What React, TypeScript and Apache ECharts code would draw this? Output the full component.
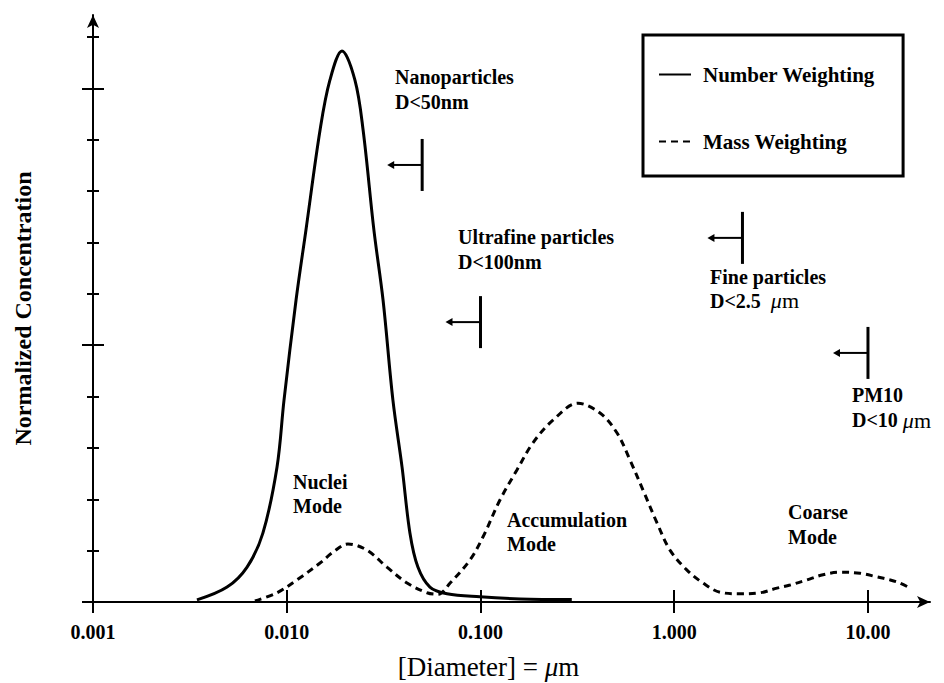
import React, { useEffect, useRef } from "react";
import * as echarts from "echarts";

// ---- data ----
const numberDiameters = [0.00344, 0.00492, 0.00624, 0.00753, 0.00891, 0.00968, 0.01117, 0.01256, 0.01486, 0.0167, 0.01928, 0.02249, 0.02478, 0.02818, 0.03141, 0.03532, 0.03936, 0.04325, 0.04753, 0.05483, 0.06714, 0.0993, 0.16, 0.296];
const numberValues = [0.04, 0.29, 0.68, 1.34, 2.63, 3.93, 5.88, 7.24, 9.19, 10.16, 10.73, 10.16, 9.19, 7.24, 5.88, 3.93, 2.63, 1.34, 0.68, 0.29, 0.16, 0.1, 0.06, 0.05];

const massDiameters = [0.00685, 0.00891, 0.01129, 0.01486, 0.01734, 0.0207, 0.02594, 0.03289, 0.04178, 0.05298, 0.0604, 0.0697, 0.0883, 0.1031, 0.1262, 0.1542, 0.1866, 0.2366, 0.3184, 0.414, 0.507, 0.592, 0.69, 0.815, 0.951, 1.164, 1.407, 1.723, 2.183, 2.773, 3.39, 3.96, 4.84, 5.86, 7.17, 9.1, 11.12, 13.0, 14.6, 16.5];
const massValues = [0.02, 0.18, 0.43, 0.76, 0.97, 1.13, 1.01, 0.68, 0.37, 0.18, 0.15, 0.37, 0.82, 1.27, 1.99, 2.57, 3.1, 3.54, 3.87, 3.68, 3.29, 2.76, 2.18, 1.54, 1.01, 0.62, 0.37, 0.19, 0.16, 0.18, 0.27, 0.33, 0.43, 0.53, 0.58, 0.56, 0.49, 0.43, 0.37, 0.27];

// size-cut markers (diameter, vertical position)
const markerDiameters = [0.05, 0.1, 2.25, 10];
const markerLevels = [8.51, 5.45, 7.09, 4.85];

const xTickValues = [0.001, 0.01, 0.1, 1, 10];
const xTickLabels = ["0.001", "0.010", "0.100", "1.000", "10.00"];
const yMinorTicks = [0, 1, 2, 3, 4, 5, 6, 7, 8, 9, 10, 11];
const yMajorTicks = [0, 5, 10];

const seriesNames = ["Number Weighting", "Mass Weighting"];

const FONT = "Liberation Serif";

export default function App() {
  const ref = useRef<HTMLDivElement>(null);

  useEffect(() => {
    if (!ref.current) return;
    const chart = echarts.init(ref.current, null, { renderer: "svg" });

    const baseY = {
      type: "value",
      min: 0,
      max: 11.43,
      position: "left",
      offset: 0,
      axisLabel: { show: false },
      splitLine: { show: false },
    };
    const baseX = {
      type: "log",
      logBase: 10,
      min: 0.001,
      max: 20.9,
      position: "bottom",
      offset: 0,
      splitLine: { show: false },
      minorTick: { show: false },
    };

    const annText = (x: number, y: number, text: string, lh = 25) => ({
      type: "text",
      x,
      y,
      silent: true,
      style: {
        text,
        fontFamily: FONT,
        fontSize: 20,
        fontWeight: "bold",
        lineHeight: lh,
        fill: "#000",
        verticalAlign: "top",
        rich: {
          mu: { fontFamily: FONT, fontSize: 22, fontStyle: "italic", fontWeight: "normal", lineHeight: lh, fill: "#000" },
          r: { fontFamily: FONT, fontSize: 22, fontWeight: "normal", lineHeight: lh, fill: "#000" },
        },
      },
    });

    chart.setOption({
      animation: false,
      backgroundColor: "#fff",
      grid: { left: 93, right: 14, top: 15, bottom: 81, containLabel: false, outerBoundsMode: "none" },
      legend: {
        data: seriesNames,
        orient: "vertical",
        left: 643,
        top: 35,
        itemWidth: 32,
        itemHeight: 14,
        itemGap: 46,
        padding: [29, 28, 24, 15],
        borderColor: "#000",
        borderWidth: 3,
        backgroundColor: "#fff",
        itemStyle: { opacity: 0 },
        textStyle: { fontFamily: FONT, fontSize: 21, fontWeight: "bold", color: "#000", padding: [0, 0, 0, 7] },
      },
      xAxis: [
        {
          ...baseX,
          axisLine: { show: true, lineStyle: { color: "#000", width: 2 }, symbol: ["none", "arrow"], symbolSize: [9, 13] },
          axisTick: { show: true, customValues: xTickValues, length: 11, inside: false, lineStyle: { color: "#000", width: 2 } },
          axisLabel: {
            show: true,
            customValues: xTickValues,
            margin: 20,
            fontFamily: FONT,
            fontSize: 20,
            fontWeight: "bold",
            color: "#000",
            formatter: (v: number) => xTickLabels[Math.round(Math.log10(v)) + 3],
          },
          name: "[Diameter] = {mu|μ}m",
          nameLocation: "middle",
          nameGap: 51,
          nameTextStyle: {
            fontFamily: FONT,
            fontSize: 27,
            color: "#000",
            padding: [0, 46, 0, 0],
            rich: { mu: { fontFamily: FONT, fontSize: 27, fontStyle: "italic", color: "#000" } },
          },
        },
        {
          ...baseX,
          axisLine: { show: false },
          axisTick: { show: true, customValues: xTickValues, length: 12, inside: true, lineStyle: { color: "#000", width: 2 } },
          axisLabel: { show: false },
        },
      ],
      yAxis: [
        {
          ...baseY,
          axisLine: { show: true, lineStyle: { color: "#000", width: 2 }, symbol: ["none", "arrow"], symbolSize: [9, 13] },
          axisTick: { show: true, customValues: yMinorTicks, length: 6, inside: false, lineStyle: { color: "#000", width: 2 } },
          name: "Normalized Concentration",
          nameLocation: "middle",
          nameRotate: 90,
          nameGap: 58,
          nameTextStyle: { fontFamily: FONT, fontSize: 24, fontWeight: "bold", color: "#000" },
        },
        {
          ...baseY,
          axisLine: { show: false },
          axisTick: { show: true, customValues: yMinorTicks, length: 6, inside: true, lineStyle: { color: "#000", width: 2 } },
        },
        {
          ...baseY,
          axisLine: { show: false },
          axisTick: { show: true, customValues: yMajorTicks, length: 11, inside: false, lineStyle: { color: "#000", width: 2 } },
        },
        {
          ...baseY,
          axisLine: { show: false },
          axisTick: { show: true, customValues: yMajorTicks, length: 11, inside: true, lineStyle: { color: "#000", width: 2 } },
        },
      ],
      series: [
        {
          name: seriesNames[0],
          type: "line",
          xAxisIndex: 0,
          yAxisIndex: 0,
          data: numberDiameters.map((d, i) => [d, numberValues[i]]),
          smooth: 0.35,
          symbol: "none",
          lineStyle: { color: "#000", width: 3, type: "solid" },
          itemStyle: { color: "#000" },
        },
        {
          name: seriesNames[1],
          type: "line",
          xAxisIndex: 0,
          yAxisIndex: 0,
          data: massDiameters.map((d, i) => [d, massValues[i]]),
          smooth: 0.35,
          symbol: "none",
          lineStyle: { color: "#000", width: 3, type: [7, 5] },
          itemStyle: { color: "#000" },
        },
        {
          name: "cut-offs",
          type: "custom",
          xAxisIndex: 0,
          yAxisIndex: 0,
          silent: true,
          data: markerDiameters.map((d, i) => [d, markerLevels[i]]),
          renderItem: (_params: any, api: any) => {
            const p = api.coord([api.value(0), api.value(1)]);
            const x = p[0];
            const y = p[1];
            return {
              type: "group",
              children: [
                { type: "line", shape: { x1: x, y1: y - 26, x2: x, y2: y + 26 }, style: { stroke: "#000", lineWidth: 3 } },
                { type: "line", shape: { x1: x - 30, y1: y, x2: x, y2: y }, style: { stroke: "#000", lineWidth: 2 } },
                {
                  type: "polygon",
                  shape: { points: [[x - 35, y], [x - 28, y - 4], [x - 28, y + 4]] },
                  style: { fill: "#000" },
                },
              ],
            };
          },
        },
      ],
      graphic: [
        annText(395, 64.5, "Nanoparticles\nD<50nm"),
        annText(458, 224.5, "Ultrafine particles\nD<100nm"),
        annText(710, 264.5, "Fine particles\nD<2.5  {mu|μ}{r|m}", 24),
        annText(852, 382.5, "PM10\nD<10 {mu|μ}{r|m}"),
        annText(293, 469.5, "Nuclei\nMode", 24),
        annText(507, 507.5, "Accumulation\nMode", 24),
        annText(788, 499.5, "Coarse\nMode"),
      ],
    });

    return () => chart.dispose();
  }, []);

  return (
    <div
      ref={ref}
      style={{ position: "fixed", left: 0, top: 0, width: 944, height: 683, background: "#fff" }}
    />
  );
}
